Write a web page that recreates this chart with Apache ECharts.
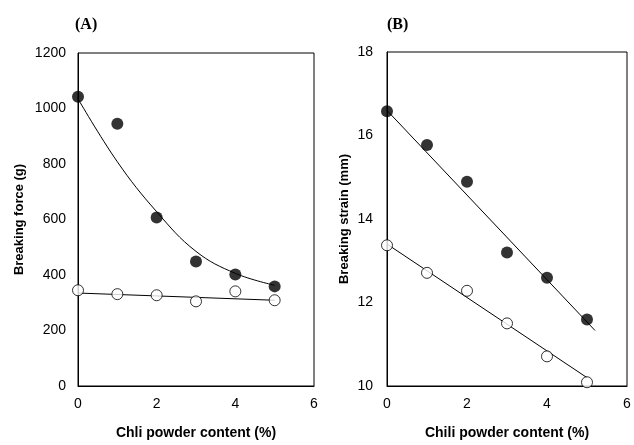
<!DOCTYPE html>
<html>
<head>
<meta charset="utf-8">
<script src="https://cdn.jsdelivr.net/npm/echarts@6/dist/echarts.min.js"></script>
<style>
  html, body { margin: 0; padding: 0; background: #fff; }
  #main { width: 634px; height: 445px; }
</style>
</head>
<body>
<div id="main"></div>
<script>
// chili powder content (%)
var chili = [0, 1, 2, 3, 4, 5];

// (A) breaking force (g)
var forceFilled = [1042, 945, 607, 449, 402, 359];
var forceOpen = [345, 331, 327, 305, 341, 309];
var forceCurve = [1035, 808, 628, 485, 406, 363];   // fitted curve, read at chili
var forceLineX = [0, 5];
var forceLineY = [335, 309];

// (B) breaking strain (mm)
var strainFilled = [16.58, 15.77, 14.89, 13.2, 12.59, 11.59];
var strainOpen = [13.37, 12.71, 12.28, 11.5, 10.71, 10.09];
var strainLineFX = [0, 5.2];
var strainLineFY = [16.6, 11.33];
var strainLineOX = [0, 5];
var strainLineOY = [13.4, 10.2];

function pairs(xs, ys) {
  return xs.map(function (x, i) { return [x, ys[i]]; });
}

var chart = echarts.init(document.getElementById("main"));

var labelFont = { color: "#000", fontFamily: "Liberation Sans", fontSize: 14 };
var nameFont = { color: "#000", fontFamily: "Liberation Sans", fontSize: 13, fontWeight: "bold" };

function plain(v) { return String(v); }

function xAxisFor(gridIndex) {
  return {
    type: "value",
    gridIndex: gridIndex,
    min: 0,
    max: 6,
    interval: 2,
    name: gridIndex === 0 ? "Chli powder content (%)" : "Chili powder content (%)",
    nameLocation: "middle",
    nameGap: 40,
    nameTextStyle: Object.assign({}, nameFont, { fontSize: 14 }),
    axisLine: { show: true, onZero: false, lineStyle: { color: "#000", width: 1 } },
    axisTick: { show: false },
    axisLabel: Object.assign({ margin: 11, formatter: plain }, labelFont),
    splitLine: { show: false },
  };
}

var option = {
  animation: false,
  backgroundColor: "#fff",
  title: [
    {
      text: "(A)",
      left: 70,
      top: 12,
      textStyle: { fontFamily: "Liberation Serif", fontWeight: "bold", fontSize: 16, color: "#000" },
    },
    {
      text: "(B)",
      left: 382,
      top: 12,
      textStyle: { fontFamily: "Liberation Serif", fontWeight: "bold", fontSize: 16, color: "#000" },
    },
  ],
  grid: [
    { left: 78, right: 320, top: 53, bottom: 57, show: true, borderColor: "#000", borderWidth: 1 },
    { left: 387, right: 7, top: 52, bottom: 56, show: true, borderColor: "#000", borderWidth: 1 },
  ],
  xAxis: [xAxisFor(0), xAxisFor(1)],
  yAxis: [
    {
      type: "value",
      gridIndex: 0,
      min: 0,
      max: 1200,
      interval: 200,
      name: "Breaking force (g)",
      nameLocation: "middle",
      nameGap: 52,
      nameTextStyle: nameFont,
      axisLine: { show: true, lineStyle: { color: "#000", width: 1 } },
      axisTick: { show: false },
      axisLabel: Object.assign({ margin: 12, formatter: plain }, labelFont),
      splitLine: { show: false },
    },
    {
      type: "value",
      gridIndex: 1,
      min: 10,
      max: 18,
      interval: 2,
      name: "Breaking strain (mm)",
      nameLocation: "middle",
      nameGap: 36,
      nameTextStyle: nameFont,
      axisLine: { show: true, lineStyle: { color: "#000", width: 1 } },
      axisTick: { show: false },
      axisLabel: Object.assign({ margin: 14, formatter: plain }, labelFont),
      splitLine: { show: false },
    },
  ],
  series: [
    {
      type: "line",
      xAxisIndex: 0,
      yAxisIndex: 0,
      data: pairs(chili, forceCurve),
      smooth: 0.4,
      symbol: "none",
      lineStyle: { color: "#000", width: 1 },
      z: 1,
    },
    {
      type: "line",
      xAxisIndex: 0,
      yAxisIndex: 0,
      data: pairs(forceLineX, forceLineY),
      symbol: "none",
      lineStyle: { color: "#000", width: 1 },
      z: 1,
    },
    {
      type: "scatter",
      xAxisIndex: 0,
      yAxisIndex: 0,
      data: pairs(chili, forceFilled),
      symbolSize: 12,
      itemStyle: { color: "#000" },
      z: 3,
    },
    {
      type: "scatter",
      xAxisIndex: 0,
      yAxisIndex: 0,
      data: pairs(chili, forceOpen),
      symbolSize: 11,
      itemStyle: { color: "#fff", borderColor: "#000", borderWidth: 1 },
      z: 3,
    },
    {
      type: "line",
      xAxisIndex: 1,
      yAxisIndex: 1,
      data: pairs(strainLineFX, strainLineFY),
      symbol: "none",
      lineStyle: { color: "#000", width: 1 },
      z: 1,
    },
    {
      type: "line",
      xAxisIndex: 1,
      yAxisIndex: 1,
      data: pairs(strainLineOX, strainLineOY),
      symbol: "none",
      lineStyle: { color: "#000", width: 1 },
      z: 1,
    },
    {
      type: "scatter",
      xAxisIndex: 1,
      yAxisIndex: 1,
      data: pairs(chili, strainFilled),
      symbolSize: 12,
      itemStyle: { color: "#000" },
      z: 3,
    },
    {
      type: "scatter",
      xAxisIndex: 1,
      yAxisIndex: 1,
      data: pairs(chili, strainOpen),
      symbolSize: 11,
      itemStyle: { color: "#fff", borderColor: "#000", borderWidth: 1 },
      z: 3,
    },
  ],
};

chart.setOption(option, true);
</script>
</body>
</html>
